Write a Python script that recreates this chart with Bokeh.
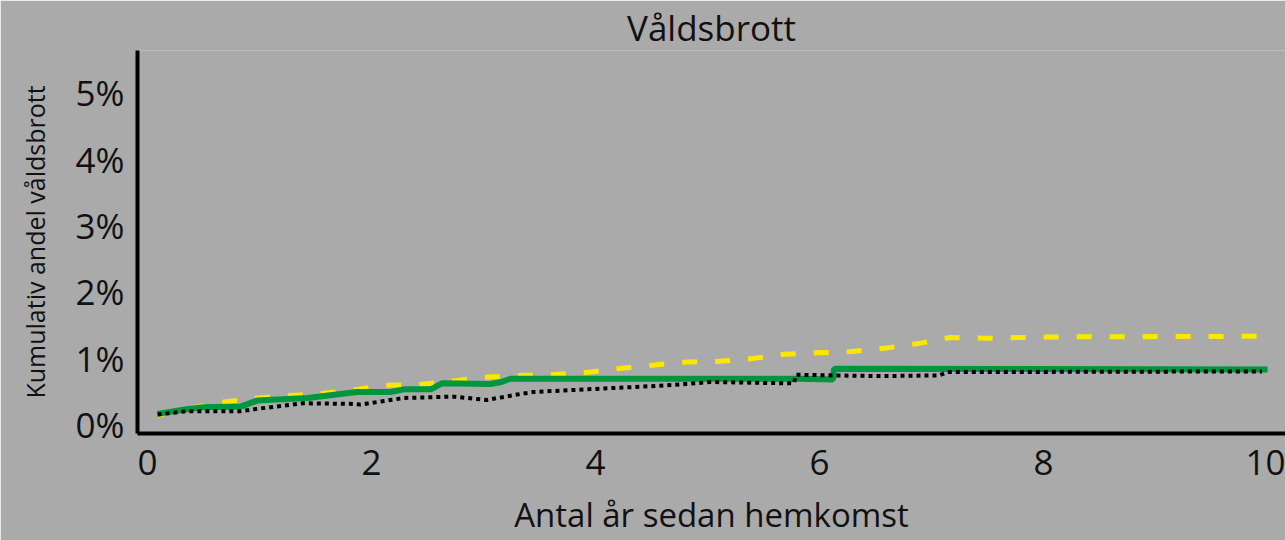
from bokeh.plotting import figure
from bokeh.models import Range1d, FixedTicker, PrintfTickFormatter
from bokeh.embed import file_html
from bokeh.resources import INLINE

# Data (cumulative share of violent crime, %)
green_x = [0.09, 0.35, 0.5, 0.83, 0.98, 1.43, 1.87, 2.17, 2.29, 2.53, 2.63, 3.06, 3.16, 3.24, 5.8, 6.12, 6.13, 10.0]
green_y = [0.16, 0.23, 0.26, 0.27, 0.36, 0.40, 0.49, 0.49, 0.53, 0.53, 0.62, 0.61, 0.64, 0.69, 0.69, 0.68, 0.84, 0.83]

black_x = [0.09, 0.35, 0.83, 1.0, 1.39, 1.84, 1.9, 2.29, 2.73, 3.03, 3.33, 3.45, 4.04, 4.64, 5.03, 5.77, 5.79, 6.12, 6.54, 7.07, 7.14, 9.95]
black_y = [0.15, 0.20, 0.20, 0.24, 0.32, 0.31, 0.30, 0.40, 0.42, 0.37, 0.46, 0.49, 0.54, 0.59, 0.64, 0.62, 0.75, 0.74, 0.73, 0.74, 0.79, 0.80]

yellow_x = [0.09, 0.6, 0.92, 1.2, 1.51, 1.8, 2.1, 2.4, 2.7, 2.99, 3.3, 3.6, 3.9, 4.19, 4.48, 4.78, 5.08, 5.38, 5.69, 5.97, 6.29, 6.58, 6.88, 7.16, 7.5, 8.0, 9.95]
yellow_y = [0.14, 0.32, 0.39, 0.43, 0.46, 0.51, 0.59, 0.60, 0.65, 0.71, 0.74, 0.75, 0.78, 0.84, 0.89, 0.94, 0.95, 0.99, 1.06, 1.08, 1.10, 1.15, 1.22, 1.31, 1.30, 1.32, 1.33]

x_ticks = [0, 2, 4, 6, 8, 10]
y_ticks = [0, 1, 2, 3, 4, 5]

title_text = "Våldsbrott"
x_label = "Antal år sedan hemkomst"
y_label = "Kumulativ andel våldsbrott"

BG = "#aaaaaa"
FONT = "Open Sans"

p = figure(width=1285, height=540, output_backend="svg", toolbar_location=None,
           x_range=Range1d(-0.089, 10.16), y_range=Range1d(-0.136, 5.64),
           min_border_left=137, min_border_right=0, min_border_top=50, min_border_bottom=107,
           title=title_text)
p.background_fill_color = BG
p.border_fill_color = BG
p.outline_line_color = None
p.grid.visible = False

p.title.align = "center"
p.title.text_font = FONT
p.title.text_font_size = "35px"
p.title.text_font_style = "normal"
p.title.text_color = "#111111"
p.title.standoff = 0

for ax in (p.xaxis[0], p.yaxis[0]):
    ax.axis_line_width = 4
    ax.axis_line_color = "black"
    ax.major_tick_line_color = None
    ax.minor_tick_line_color = None
    ax.major_tick_out = 0
    ax.major_tick_in = 0
    ax.major_label_text_font = FONT
    ax.major_label_text_color = "#111111"
    ax.axis_label_text_font = FONT
    ax.axis_label_text_font_style = "normal"
    ax.axis_label_text_color = "#111111"

p.xaxis.ticker = FixedTicker(ticks=x_ticks)
p.yaxis.ticker = FixedTicker(ticks=y_ticks)
p.yaxis.formatter = PrintfTickFormatter(format="%d%%")

p.xaxis.major_label_text_font_size = "35px"
p.yaxis.major_label_text_font_size = "35px"
p.xaxis.major_label_standoff = 16
p.yaxis.major_label_standoff = 13

p.xaxis.axis_label = x_label
p.xaxis.axis_label_text_font_size = "33px"
p.xaxis.axis_label_standoff = 14
p.yaxis.axis_label = y_label
p.yaxis.axis_label_text_font_size = "25px"
p.yaxis.axis_label_standoff = 21

p.line(yellow_x, yellow_y, line_color="#fbe800", line_width=5, line_dash="15 18")
p.line(green_x, green_y, line_color="#00963f", line_width=6)
p.line(black_x, black_y, line_color="black", line_width=4, line_dash="4 4")

open("out.html", "w").write(file_html(p, INLINE))
